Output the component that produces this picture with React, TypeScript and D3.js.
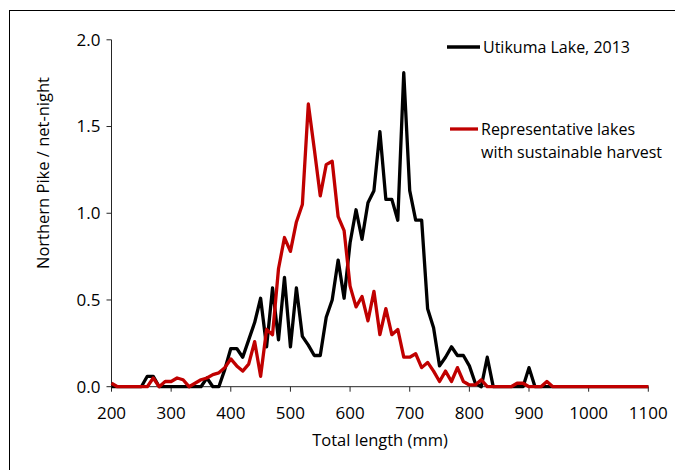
import * as d3 from "d3";

// total length bins (mm)
const lengths = [
  200, 210, 220, 230, 240, 250, 260, 270, 280, 290,
  300, 310, 320, 330, 340, 350, 360, 370, 380, 390,
  400, 410, 420, 430, 440, 450, 460, 470, 480, 490,
  500, 510, 520, 530, 540, 550, 560, 570, 580, 590,
  600, 610, 620, 630, 640, 650, 660, 670, 680, 690,
  700, 710, 720, 730, 740, 750, 760, 770, 780, 790,
  800, 810, 820, 830, 840, 850, 860, 870, 880, 890,
  900, 910, 920, 930, 940, 950, 960, 970, 980, 990,
  1000, 1010, 1020, 1030, 1040, 1050, 1060, 1070, 1080, 1090,
  1100,
];

// Utikuma Lake, 2013
const utikuma = [
  0, 0, 0, 0, 0, 0, 0.06, 0.06, 0, 0,
  0, 0, 0, 0, 0, 0, 0.05, 0, 0, 0.1,
  0.22, 0.22, 0.17, 0.27, 0.37, 0.51, 0.23, 0.57, 0.27, 0.63,
  0.23, 0.57, 0.29, 0.24, 0.18, 0.18, 0.4, 0.5, 0.73, 0.51,
  0.83, 1.02, 0.85, 1.06, 1.13, 1.47, 1.08, 1.08, 0.96, 1.81,
  1.13, 0.96, 0.96, 0.45, 0.34, 0.12, 0.17, 0.23, 0.18, 0.18,
  0.12, 0.02, 0, 0.17, 0, 0, 0, 0, 0, 0,
  0.11, 0, 0, 0, 0, 0, 0, 0, 0, 0,
  0, 0, 0, 0, 0, 0, 0, 0, 0, 0,
  0,
];

// Representative lakes with sustainable harvest
const representative = [
  0.02, 0, 0, 0, 0, 0, 0, 0.05, 0, 0.03,
  0.03, 0.05, 0.04, 0, 0.02, 0.04, 0.05, 0.07, 0.08, 0.11,
  0.16, 0.12, 0.09, 0.13, 0.26, 0.06, 0.33, 0.3, 0.68, 0.86,
  0.78, 0.95, 1.05, 1.63, 1.37, 1.1, 1.28, 1.3, 0.98, 0.9,
  0.58, 0.46, 0.52, 0.38, 0.55, 0.3, 0.45, 0.3, 0.33, 0.17,
  0.17, 0.19, 0.11, 0.14, 0.09, 0.03, 0.09, 0.03, 0.11, 0.03,
  0.01, 0.01, 0.04, 0, 0, 0, 0, 0, 0.02, 0.02,
  0, 0, 0, 0.03, 0, 0, 0, 0, 0, 0,
  0, 0, 0, 0, 0, 0, 0, 0, 0, 0,
  0,
];

const xTicks = [200, 300, 400, 500, 600, 700, 800, 900, 1000, 1100];
const yTicks = [0, 0.5, 1.0, 1.5, 2.0];

const W = 675;
const H = 470;
const font = "'Open Sans', sans-serif";

export default function App() {
  const x = d3.scaleLinear().domain([200, 1100]).range([111.5, 648.3]);
  const y = d3.scaleLinear().domain([0, 2]).range([386.7, 39.8]);

  const line = d3
    .line<number>()
    .x((_, i) => x(lengths[i]))
    .y((d) => y(d));

  return (
    <svg
      width={W}
      height={H}
      viewBox={`0 0 ${W} ${H}`}
      style={{ position: "absolute", left: 0, top: 0, background: "#fff" }}
      fontFamily={font}
    >
      <rect x={9.5} y={10.5} width={700} height={500} fill="#fff" stroke="#000" strokeWidth={1} />

      {/* y axis */}
      <line x1={x(200)} x2={x(200)} y1={y(0)} y2={y(2)} stroke="#262626" />
      {yTicks.map((t) => (
        <g key={t}>
          <line x1={x(200) - 5} x2={x(200)} y1={y(t)} y2={y(t)} stroke="#262626" />
          <text x={x(200) - 11} y={y(t)} dy="0.35em" textAnchor="end" fontSize={17} fill="#000">
            {t.toFixed(1)}
          </text>
        </g>
      ))}

      {/* x axis */}
      <line x1={x(200)} x2={x(1100)} y1={y(0)} y2={y(0)} stroke="#262626" />
      {xTicks.map((t) => (
        <g key={t}>
          <line x1={x(t)} x2={x(t)} y1={y(0)} y2={y(0) + 5} stroke="#262626" />
          <text x={x(t)} y={y(0) + 26} dy="0.35em" textAnchor="middle" fontSize={17} fill="#000">
            {t}
          </text>
        </g>
      ))}

      <text x={380} y={440} dy="0.35em" textAnchor="middle" fontSize={16.5} fill="#000">
        Total length (mm)
      </text>
      <text
        transform="translate(43,173) rotate(-90)"
        dy="0.35em"
        textAnchor="middle"
        fontSize={16.5}
        fill="#000"
      >
        Northern Pike / net-night
      </text>

      {/* series */}
      <path d={line(utikuma) ?? ""} fill="none" stroke="#000" strokeWidth={3.3} strokeLinejoin="round" />
      <path d={line(representative) ?? ""} fill="none" stroke="#c00000" strokeWidth={3.3} strokeLinejoin="round" />

      {/* legend */}
      <line x1={447} x2={480} y1={47} y2={47} stroke="#000" strokeWidth={3.3} />
      <text x={483} y={47} dy="0.35em" fontSize={16} fill="#000">
        Utikuma Lake, 2013
      </text>
      <line x1={450} x2={478} y1={129} y2={129} stroke="#c00000" strokeWidth={3.3} />
      <text x={481} y={129} dy="0.35em" fontSize={16} fill="#000">
        Representative lakes
      </text>
      <text x={481} y={152} dy="0.35em" fontSize={16} fill="#000">
        with sustainable harvest
      </text>
    </svg>
  );
}
